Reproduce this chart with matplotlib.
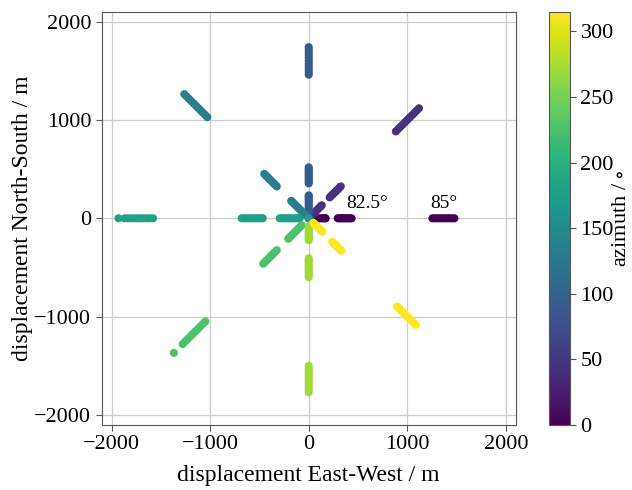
import numpy as np
import matplotlib
matplotlib.use("Agg")
import matplotlib.pyplot as plt

plt.rcParams['font.family'] = ['Liberation Serif', 'DejaVu Serif']
plt.rcParams['mathtext.fontset'] = 'stix'

azimuths = [0, 45, 90, 135, 180, 225, 270, 315]

# radial displacement (m) of the points in each azimuth direction, three zenith rings
r_inner = {
    0: [0, 15, 35, 55, 75, 95, 115, 135, 150, 165, 172],
    45: [0, 20, 40, 60, 80, 100, 120, 140, 160, 175, 187],
    90: [60, 75, 95, 115, 135, 155, 175, 195, 210, 225, 233],
    135: [50, 70, 95, 115, 135, 155, 175, 195, 215, 235, 251],
    180: [0, 91, 110, 130, 150, 170, 190, 210, 230, 255, 275, 294],
    225: [100, 120, 140, 160, 180, 200, 220, 240, 260, 280, 294],
    270: [81, 95, 110, 125, 140, 155, 170, 185, 200, 212, 223],
    315: [65, 78, 92, 106, 120, 134, 148, 160, 172, 184, 194],
}
r_mid = {
    0: [294, 308, 322, 336, 350, 364, 378, 392, 406, 420, 435],
    45: [301, 318, 335, 350, 366, 382, 398, 414, 430, 446, 459],
    90: [355, 372, 388, 404, 420, 436, 452, 468, 484, 500, 518],
    135: [459, 477, 495, 513, 531, 549, 567, 585, 603, 621, 638],
    180: [466, 487, 508, 530, 551, 572, 594, 615, 637, 658, 680],
    225: [459, 478, 497, 517, 536, 556, 575, 595, 614, 634, 653],
    270: [406, 425, 444, 463, 482, 501, 521, 540, 560, 579, 598],
    315: [337, 350, 363, 376, 389, 402, 415, 428, 441, 454, 466],
}
r_outer = {
    0: [1255, 1278, 1300, 1322, 1345, 1367, 1390, 1412, 1434, 1456, 1478],
    45: [1250, 1284, 1317, 1350, 1384, 1417, 1450, 1484, 1517, 1550, 1582],
    90: [1460, 1488, 1516, 1545, 1573, 1601, 1630, 1658, 1686, 1714, 1740],
    135: [1455, 1488, 1521, 1554, 1587, 1620, 1653, 1686, 1719, 1752, 1785],
    180: [1580, 1612, 1644, 1676, 1708, 1740, 1772, 1804, 1836, 1868, 1930],
    225: [1484, 1520, 1556, 1592, 1628, 1664, 1700, 1736, 1772, 1808, 1935],
    270: [1500, 1527, 1554, 1581, 1608, 1635, 1662, 1689, 1716, 1743, 1770],
    315: [1270, 1296, 1322, 1348, 1374, 1400, 1426, 1452, 1478, 1504, 1534],
}

ring_labels = ["82.5°", "85°"]
label_x = [590, 1370]
label_y = [60, 60]

fig = plt.figure(figsize=(6.32, 4.9), dpi=100)
ax = fig.add_axes([0.161, 0.133, 0.655, 0.843])
cax = fig.add_axes([0.869, 0.133, 0.033, 0.843])

xs, ys, cs = [], [], []
for ring in (r_outer, r_mid, r_inner):
    for az in azimuths:
        r = np.array(ring[az], dtype=float)
        a = np.deg2rad(az)
        xs.append(r * np.cos(a))
        ys.append(r * np.sin(a))
        cs.append(np.full(len(r), az, dtype=float))
xs = np.concatenate(xs); ys = np.concatenate(ys); cs = np.concatenate(cs)

sc = ax.scatter(xs, ys, c=cs, cmap='viridis', vmin=0, vmax=315, s=34,
                linewidths=0, zorder=3)

for t, x, y in zip(ring_labels, label_x, label_y):
    ax.text(x, y, t, ha='center', va='bottom', fontsize=14)

ax.set_xlim(-2100, 2100)
ax.set_ylim(-2100, 2100)
ax.set_xticks([-2000, -1000, 0, 1000, 2000])
ax.set_yticks([-2000, -1000, 0, 1000, 2000])
ax.grid(True, color='#cccccc', linewidth=0.9, zorder=0)
ax.set_axisbelow(True)
ax.tick_params(labelsize=16, direction='out', length=4, color='#555555')
for sp in ax.spines.values():
    sp.set_color('#555555')
ax.set_xlabel('displacement East-West / m', fontsize=17, labelpad=8)
ax.set_ylabel('displacement North-South / m', fontsize=17)
ax.yaxis.set_label_coords(-0.167, 0.5)

cb = fig.colorbar(sc, cax=cax)
cb.set_ticks([0, 50, 100, 150, 200, 250, 300])
cb.ax.tick_params(labelsize=16, length=4, color='#555555')
cb.outline.set_edgecolor('#555555')
fig.text(622 / 632, 0.554, r'azimuth / $\circ$', fontsize=16, rotation=90,
         ha='center', va='center')

fig.savefig('out.png', dpi=100)
